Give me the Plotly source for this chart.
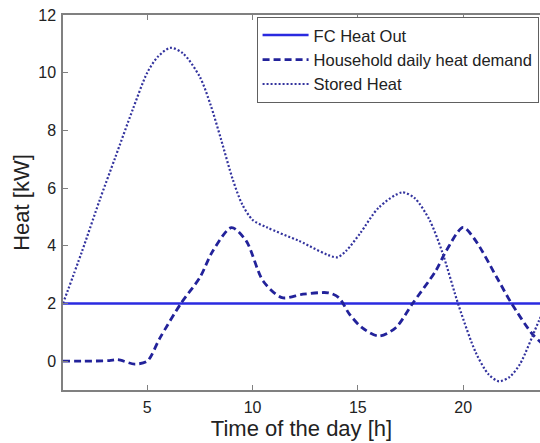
import plotly.graph_objects as go

# ---- data ----
hours_fc = [1, 24]
fc_heat = [2, 2]

hours_demand = [1, 2, 3.2, 3.6, 4.4, 5.0, 5.6, 6.6, 7.5, 8.1, 9.0, 9.7, 10.5, 11.4,
                12.4, 13.6, 14.1, 14.6, 15.2, 16.0, 16.8, 17.6, 18.7, 19.2, 20.0,
                20.6, 21.6, 22.3, 23.3, 24]
demand = [0, 0, 0.02, 0.05, -0.1, 0.0, 0.8, 2.0, 2.9, 3.8, 4.63, 4.17, 2.78, 2.2,
          2.32, 2.37, 2.2, 1.63, 1.16, 0.87, 1.16, 2.0, 3.13, 3.83, 4.64,
          4.17, 2.9, 2.0, 0.93, 0.45]

hours_stored = [1, 1.9, 2.75, 3.5, 4.3, 5.0, 5.5, 6.1, 6.7, 7.5, 8.0, 8.5, 9.06,
                9.5, 10.0, 10.7, 12.2, 14.0, 14.45, 15.1, 16.0, 17.1, 17.7, 18.4,
                19.0, 19.8, 20.6, 21.2, 21.7, 22.2, 22.7, 23.6, 24]
stored = [2, 3.8, 5.6, 7.1, 8.7, 10.0, 10.55, 10.86, 10.67, 9.85, 8.9, 7.7, 6.3,
          5.45, 4.9, 4.63, 4.17, 3.6, 3.83, 4.42, 5.33, 5.85, 5.65, 4.9,
          3.8, 1.9, 0.3, -0.45, -0.7, -0.55, -0.1, 1.4, 2.0]

x_ticks = [5, 10, 15, 20]
y_ticks = [0, 2, 4, 6, 8, 10, 12]

names = ["FC Heat Out", "Household daily heat demand", "Stored Heat"]

FONT = "Liberation Sans, Arial, sans-serif"

fig = go.Figure()
fig.add_trace(go.Scatter(x=hours_fc, y=fc_heat, mode="lines", name=names[0],
                         line=dict(color="#2a2ae0", width=2.5)))
fig.add_trace(go.Scatter(x=hours_demand, y=demand, mode="lines", name=names[1],
                         line=dict(color="#22229a", width=2.8, dash="7px,4px",
                                   shape="spline", smoothing=0.8)))
fig.add_trace(go.Scatter(x=hours_stored, y=stored, mode="lines", name=names[2],
                         line=dict(color="#33339e", width=2.2, dash="2px,2px",
                                   shape="spline", smoothing=0.8)))

axis_common = dict(showgrid=False, zeroline=False, showline=True,
                   linecolor="#808080", linewidth=1.5, ticks="inside",
                   ticklen=5, tickcolor="#808080", tickwidth=1,
                   tickfont=dict(family=FONT, size=16, color="#222"))

fig.update_xaxes(range=[1, 23.65], tickvals=x_ticks, mirror="ticks",
                 title=dict(text="Time of the day [h]",
                            font=dict(family=FONT, size=22, color="#222"),
                            standoff=2),
                 ticklabelstandoff=2, **axis_common)
fig.update_yaxes(range=[-1, 12], tickvals=y_ticks, mirror=False,
                 title=dict(text="Heat [kW]",
                            font=dict(family=FONT, size=22, color="#222"),
                            standoff=3),
                 ticklabelstandoff=2, **axis_common)

fig.update_layout(
    width=540, height=443,
    margin=dict(l=63, r=0, t=15, b=53),
    plot_bgcolor="white", paper_bgcolor="white",
    showlegend=True,
    legend=dict(x=0.997, xanchor="right", y=0.995, yanchor="top",
                bgcolor="white", bordercolor="#606060", borderwidth=1,
                font=dict(family=FONT, size=16.5, color="#222"),
                tracegroupgap=0, itemwidth=46),
)

fig.write_html("out.html", config={"displayModeBar": False},
               post_script="document.body.style.margin='0';document.body.style.overflow='hidden';")
